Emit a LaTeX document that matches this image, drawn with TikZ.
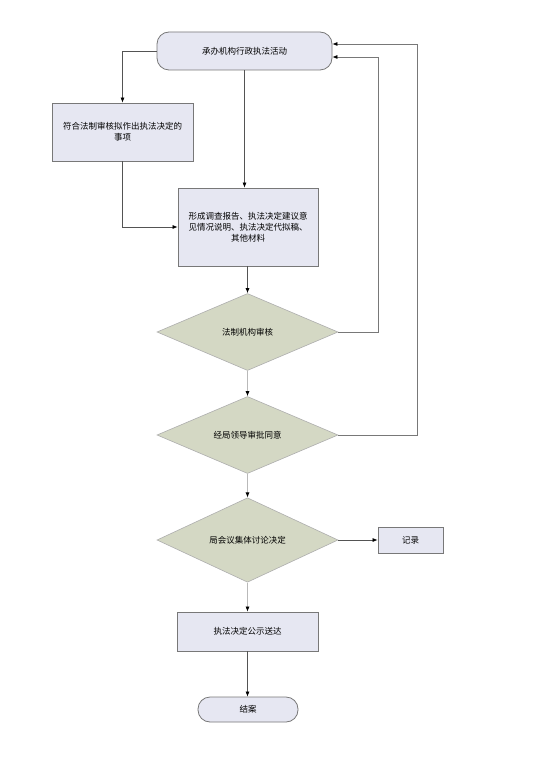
\documentclass[tikz,border=0pt]{standalone}
\usepackage{fontspec}
\setmainfont{Noto Sans CJK SC}
\usepackage{tikz}
\usetikzlibrary{shapes.geometric, arrows.meta}
\usetikzlibrary{calc}
\definecolor{boxfill}{RGB}{230,231,242}
\definecolor{diafill}{RGB}{212,216,196}
\definecolor{edgegray}{RGB}{120,120,120}
\definecolor{lightline}{RGB}{185,185,185}
\tikzstyle{arrow} = [-{Latex[length=5pt,width=4pt,color=black]},line width=0.7pt,draw=edgegray!70!black]
\tikzstyle{lightarrow} = [arrow,draw=lightline]
\tikzstyle{procbox} = [rectangle,draw=edgegray,line width=0.8pt,fill=boxfill,align=center,font=\fontsize{8.5}{11}\selectfont]
\tikzstyle{termbox} = [procbox,rounded corners=12pt]
\tikzstyle{decision} = [diamond,draw=edgegray!60,line width=0.6pt,fill=diafill,inner sep=0pt,font=\fontsize{8.5}{11}\selectfont,minimum width=181pt,minimum height=77pt]

\begin{document}
\begin{tikzpicture}[x=1pt,y=-1pt]
\useasboundingbox[fill=white] (0,0) rectangle (547,775);

% boxes
\node[termbox,minimum width=175pt,minimum height=38pt] (act) at (244.5,51) {承办机构行政执法活动};
\node[procbox,minimum width=141pt,minimum height=58pt] (legal) at (122.5,132) {符合法制审核拟作出执法决定的\\事项};
\node[procbox,minimum width=140pt,minimum height=78pt,text width=132pt] (report) at (248,227) {形成调查报告、执法决定建议意\\见情况说明、执法决定代拟稿、\\其他材料};
\node[decision] (check) at (247.5,332) {法制机构审核};
\node[decision] (approve) at (247.5,435) {经局领导审批同意};
\node[decision] (meeting) at (247.5,540) {局会议集体讨论决定};
\node[procbox,minimum width=65pt,minimum height=26pt] (record) at (410.5,540) {记录};
\node[procbox,minimum width=141pt,minimum height=39pt] (publish) at (247.5,631.5) {执法决定公示送达};
\node[termbox,minimum width=100pt,minimum height=25pt] (close) at (248,709.5) {结案};

% feedback corners
\coordinate (back1) at (378,57);
\coordinate (back2) at (417,44);

% connectors
\draw[arrow] (act.west) -| (legal.north);
\draw[arrow] (act.south) -- (act.south |- report.north);
\draw[arrow] (legal.south) |- (report.west);
\draw[arrow] (report.south -| check.north) -- (check.north);
\draw[arrow,draw=edgegray] (check.east) -| (back1) -- (back1 -| act.east);
\draw[arrow,draw=edgegray] (approve.east) -| (back2) -- (back2 -| act.east);
\draw[lightarrow] (check.south) -- (approve.north);
\draw[lightarrow] (approve.south) -- (meeting.north);
\draw[arrow] (meeting.east) -- (record.west);
\draw[lightarrow] (meeting.south) -- (publish.north -| meeting.south);
\draw[arrow] (publish.south) -- (publish.south |- close.north);
\end{tikzpicture}
\end{document}
